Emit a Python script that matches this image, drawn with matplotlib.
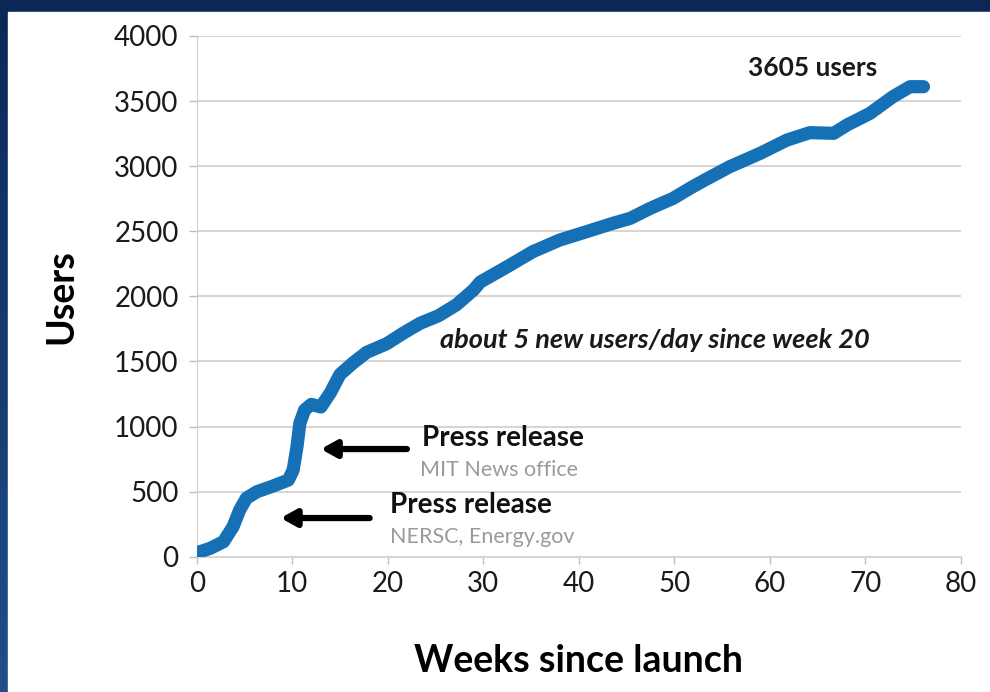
import numpy as np
import matplotlib
matplotlib.use("Agg")
import matplotlib.pyplot as plt
from matplotlib.patches import Rectangle

plt.rcParams['font.family'] = ['Lato', 'DejaVu Sans']

# weeks since launch and cumulative users
weeks = [0, 1.4, 2.8, 3.8, 4.5, 5.2, 6.3, 8.0, 9.6, 10.1, 10.5, 10.8, 11.3,
         12.0, 13.0, 14.0, 15.0, 16.4, 17.8, 19.9, 21.6, 23.4, 25.3, 27.2,
         29.0, 29.7, 32.5, 35.2, 38.0, 40.8, 43.6, 45.4, 47.5, 49.9, 51.7,
         53.2, 55.8, 59.0, 61.8, 64.2, 66.7, 68.1, 70.5, 72.9, 74.7, 76.1]
users = [30, 64, 115, 230, 359, 449, 499, 543, 589, 666, 845, 1025, 1127,
         1170, 1150, 1260, 1400, 1490, 1570, 1636, 1716, 1793, 1850, 1935,
         2050, 2110, 2227, 2343, 2432, 2496, 2561, 2599, 2676, 2753, 2832,
         2893, 2995, 3098, 3200, 3257, 3252, 3316, 3405, 3533, 3610, 3610]

x_ticks = [0, 10, 20, 30, 40, 50, 60, 70, 80]
y_ticks = [0, 500, 1000, 1500, 2000, 2500, 3000, 3500, 4000]

fig = plt.figure(figsize=(9.9, 6.92), dpi=100)

# slide background: navy gradient frame with white panel
bg = fig.add_axes([0, 0, 1, 1], zorder=-2)
grad = np.linspace(0, 1, 256).reshape(-1, 1)
cmap = matplotlib.colors.LinearSegmentedColormap.from_list('bg', ['#0a2756', '#214f8a'])
bg.imshow(grad, aspect='auto', cmap=cmap, extent=[0, 1, 0, 1], origin='upper')
bg.add_patch(Rectangle((8 / 990, 0), 1, 680 / 692, color='white'))
bg.set_xlim(0, 1)
bg.set_ylim(0, 1)
bg.axis('off')

ax = fig.add_axes([0.1987, 0.1955, 0.7717, 0.7526])
ax.plot(weeks, users, color='#1570b6', lw=9.5, solid_capstyle='round',
        solid_joinstyle='round', zorder=3)

ax.set_xlim(0, 80)
ax.set_ylim(0, 4000)
ax.set_xticks(x_ticks)
ax.set_yticks(y_ticks)
ax.yaxis.grid(True, color='#d6d6d6', lw=1.5)
ax.set_axisbelow(True)
for s in ['top', 'right']:
    ax.spines[s].set_visible(False)
ax.spines['left'].set_color('#cfcfcf')
ax.spines['bottom'].set_color('#d6d6d6')
ax.spines['bottom'].set_linewidth(1.5)
ax.tick_params(colors='#bdbdbd', length=6, width=1, labelcolor='#1a1a1a',
               labelsize=20, pad=7)
ax.tick_params(axis='x', pad=5, length=5)

ax.set_xlabel('Weeks since launch', fontsize=27, fontweight='bold', labelpad=34)
ax.set_ylabel('Users', fontsize=27, fontweight='bold', labelpad=26)

ax.text(64.5, 3753, '3605 users', fontsize=19, fontweight='bold',
        ha='center', va='center', color='#1a1a1a')
ax.text(25.5, 1664, 'about 5 new users/day since week 20', fontsize=19.5,
        fontweight='bold', fontstyle='italic', ha='left', va='center',
        color='#1a1a1a')

ax.annotate('', xy=(12.7, 827), xytext=(22.3, 827),
            arrowprops=dict(arrowstyle='-|>,head_length=0.9,head_width=0.5',
                            color='black', lw=4.5))
ax.text(23.6, 912, 'Press release', fontsize=20, fontweight='bold',
        ha='left', va='center', color='#111111')
ax.text(23.4, 666, 'MIT News office', fontsize=15.5, ha='left',
        va='center', color='#9a9a9a')

ax.annotate('', xy=(8.5, 297), xytext=(18.4, 297),
            arrowprops=dict(arrowstyle='-|>,head_length=0.9,head_width=0.5',
                            color='black', lw=4.5))
ax.text(20.2, 397, 'Press release', fontsize=20, fontweight='bold',
        ha='left', va='center', color='#111111')
ax.text(20.2, 151, 'NERSC, Energy.gov', fontsize=15.5, ha='left',
        va='center', color='#9a9a9a')

fig.savefig('out.png', dpi=100)
